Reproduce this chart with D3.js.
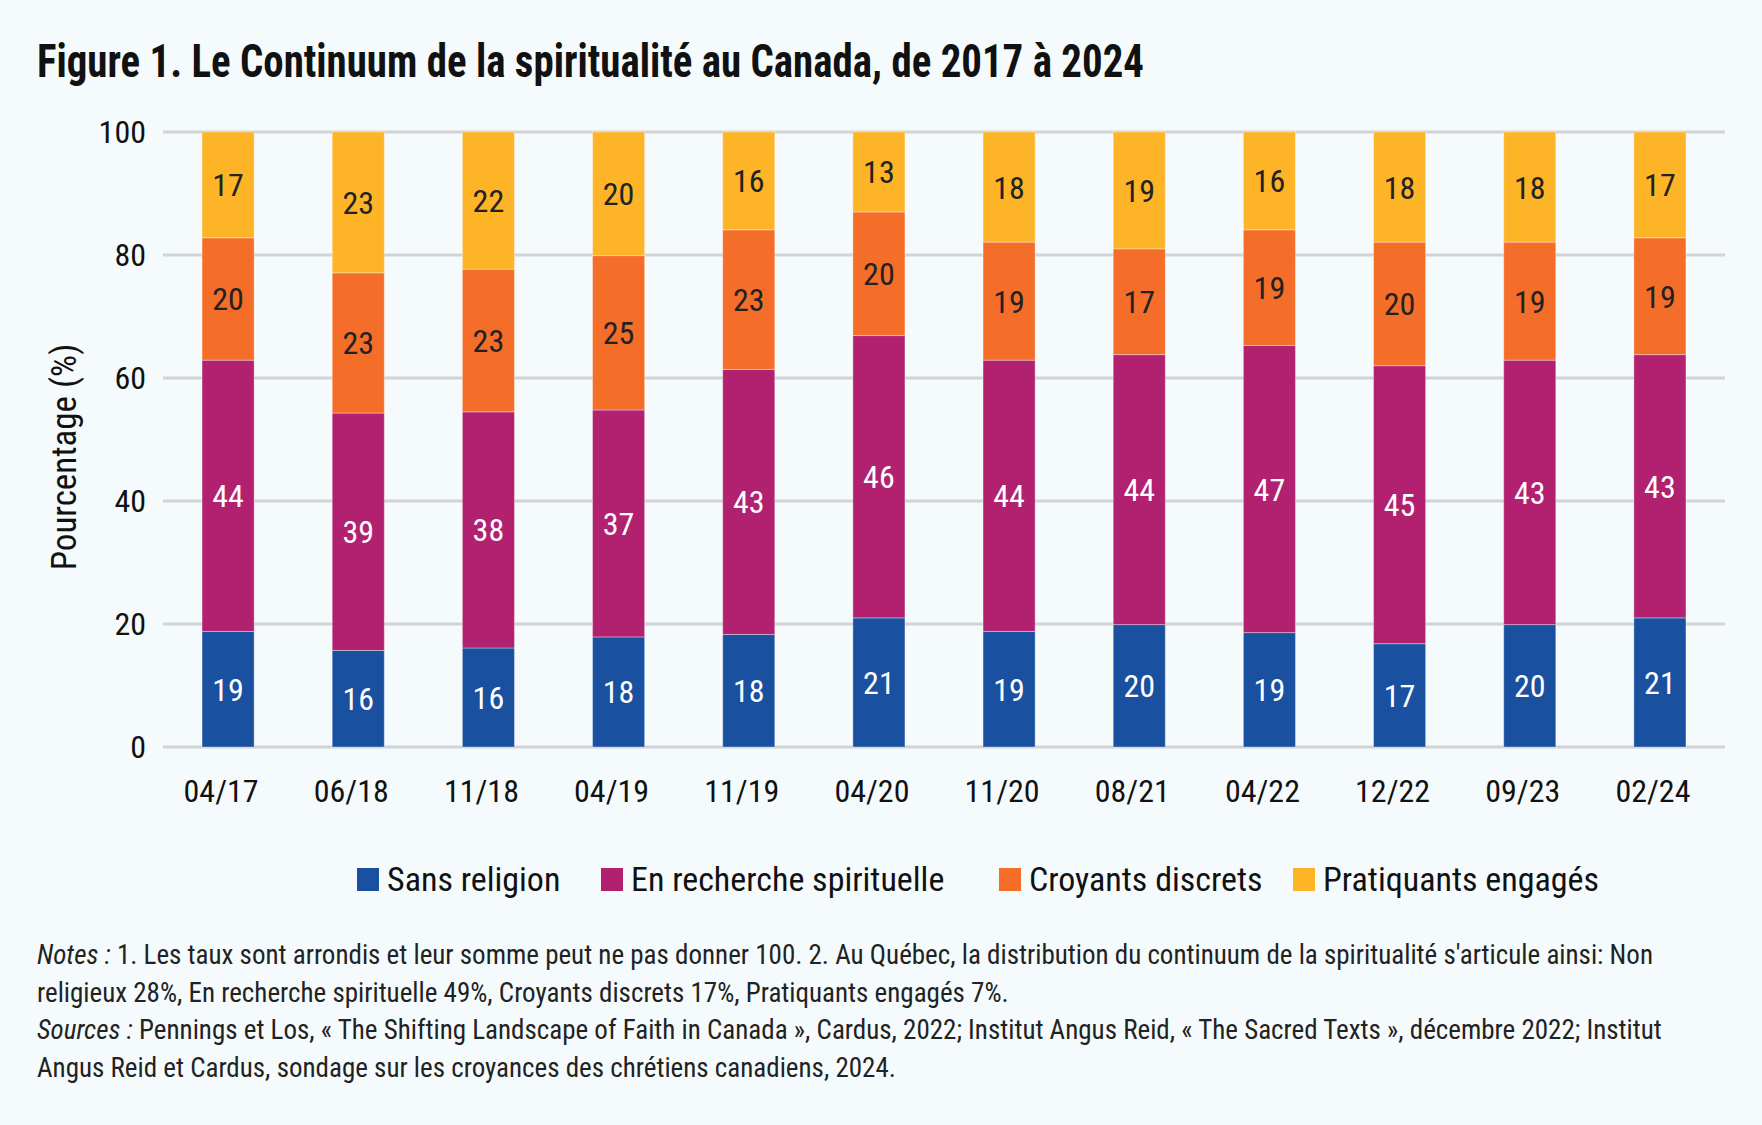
<!DOCTYPE html>
<html>
<head>
<meta charset="utf-8">
<script src="https://cdn.jsdelivr.net/npm/d3@7"></script>
<style>
  body { margin: 0; background: #f5fbfc; }
  svg { display: block; }
  text { font-family: "Liberation Sans Narrow", "Roboto Condensed", "DejaVu Sans Condensed", sans-serif; }
</style>
</head>
<body>
<div id="chart"></div>
<script>
// data (percentages, unrounded estimates; labels show rounded)
const periods = ['04/17', '06/18', '11/18', '04/19', '11/19', '04/20', '11/20', '08/21', '04/22', '12/22', '09/23', '02/24'];
const sansReligion = [18.8, 15.7, 16.1, 17.9, 18.3, 21.0, 18.8, 19.9, 18.6, 16.8, 19.9, 21.0];
const enRecherche  = [44.1, 38.6, 38.4, 36.9, 43.1, 45.9, 44.1, 43.9, 46.7, 45.2, 43.0, 42.8];
const croyants     = [19.9, 22.8, 23.2, 25.1, 22.7, 20.1, 19.2, 17.2, 18.8, 20.1, 19.2, 19.0];
const pratiquants  = [17.2, 22.9, 22.3, 20.1, 15.9, 13.0, 17.9, 19.0, 15.9, 17.9, 17.9, 17.2];
const seriesNames = ['Sans religion', 'En recherche spirituelle', 'Croyants discrets', 'Pratiquants engagés'];
const yTicks = [0, 20, 40, 60, 80, 100];

const colors = ['#1a50a0', '#b12170', '#f46d29', '#fdb426'];
const labelColors = ['#ffffff', '#ffffff', '#222222', '#222222'];

const width = 1762, height = 1125;
const margin = { top: 132, right: 37, bottom: 378, left: 163 };

const svg = d3.select('#chart')
    .append('svg')
    .attr('width', width)
    .attr('height', height);

svg.append('rect')
    .attr('width', width)
    .attr('height', height)
    .attr('fill', '#f5fbfc');

// title
svg.append('text')
    .attr('x', 37)
    .attr('y', 77)
    .style('font-size', '46px')
    .style('font-weight', 'bold')
    .attr('textLength', 1107)
    .attr('lengthAdjust', 'spacingAndGlyphs')
    .attr('fill', '#111')
    .text('Figure 1. Le Continuum de la spiritualité au Canada, de 2017 à 2024');

const g = svg.append('g')
    .attr('transform', `translate(${margin.left}, ${margin.top})`);

const innerW = width - margin.left - margin.right;
const innerH = height - margin.top - margin.bottom;

const xScale = d3.scaleBand()
    .domain(periods)
    .range([0, innerW])
    .paddingInner(0.6)
    .paddingOuter(0.3);

const yScale = d3.scaleLinear()
    .domain([0, 100])
    .range([innerH, 0]);

// gridlines
g.append('g')
    .selectAll('line')
    .data(yTicks)
    .join('line')
    .attr('x1', 0)
    .attr('x2', innerW)
    .attr('y1', d => yScale(d))
    .attr('y2', d => yScale(d))
    .attr('stroke', '#d2d3d5')
    .attr('stroke-width', 3);

// y axis labels
const yAxis = d3.axisLeft(yScale).tickValues(yTicks).tickSize(0).tickPadding(17);
g.append('g')
    .attr('class', 'y-axis')
    .call(yAxis)
    .call(s => s.select('.domain').remove())
    .selectAll('text')
    .style('font-size', '32px')
    .attr('fill', '#111');

// x axis labels
const xAxis = d3.axisBottom(xScale).tickSize(0).tickPadding(32);
g.append('g')
    .attr('class', 'x-axis')
    .attr('transform', `translate(0, ${innerH})`)
    .call(xAxis)
    .call(s => s.select('.domain').remove())
    .selectAll('text')
    .attr('dx', -7)
    .style('font-size', '32px')
    .attr('fill', '#111');

// y axis title
svg.append('text')
    .attr('transform', 'translate(76, 457) rotate(-90)')
    .style('text-anchor', 'middle')
    .style('font-size', '35px')
    .attr('fill', '#111')
    .text('Pourcentage (%)');

// stacked data
const table = periods.map((p, i) => ({
    period: p,
    s0: sansReligion[i],
    s1: enRecherche[i],
    s2: croyants[i],
    s3: pratiquants[i]
}));
const stack = d3.stack().keys(['s0', 's1', 's2', 's3']);
const stacked = stack(table);

const layers = g.selectAll('.layer')
    .data(stacked)
    .join('g')
    .attr('class', 'layer')
    .attr('fill', (d, i) => colors[i]);

layers.selectAll('rect')
    .data(d => d)
    .join('rect')
    .attr('x', d => xScale(d.data.period))
    .attr('y', d => yScale(Math.min(d[1], 100)))
    .attr('width', xScale.bandwidth())
    .attr('height', d => yScale(d[0]) - yScale(Math.min(d[1], 100)))
    .attr('stroke', 'rgba(255,255,255,0.35)')
    .attr('stroke-width', 1);

// value labels
layers.each(function(layer, li) {
    d3.select(this).selectAll('text')
        .data(layer)
        .join('text')
        .attr('x', d => xScale(d.data.period) + xScale.bandwidth() / 2)
        .attr('y', d => yScale((d[0] + Math.min(d[1], 100)) / 2))
        .attr('dy', '0.36em')
        .style('text-anchor', 'middle')
        .style('font-size', '32px')
        .attr('fill', labelColors[li])
        .text(d => Math.round(d[1] - d[0]));
});

// legend
const legendX = [357, 601, 999, 1293];
const legend = svg.append('g')
    .selectAll('g')
    .data(seriesNames)
    .join('g')
    .attr('transform', (d, i) => `translate(${legendX[i]}, 879)`);

legend.append('rect')
    .attr('x', 0)
    .attr('y', -11)
    .attr('width', 22)
    .attr('height', 23)
    .attr('fill', (d, i) => colors[i]);

legend.append('text')
    .attr('x', 30)
    .attr('dy', '0.36em')
    .style('font-size', '34px')
    .attr('fill', '#111')
    .text(d => d);

// notes
const noteLines = [
    ['Notes :', ' 1. Les taux sont arrondis et leur somme peut ne pas donner 100. 2. Au Québec, la distribution du continuum de la spiritualité s\'articule ainsi: Non'],
    ['', 'religieux 28%, En recherche spirituelle 49%, Croyants discrets 17%, Pratiquants engagés 7%.'],
    ['Sources :', ' Pennings et Los, « The Shifting Landscape of Faith in Canada », Cardus, 2022; Institut Angus Reid, « The Sacred Texts », décembre 2022; Institut'],
    ['', 'Angus Reid et Cardus, sondage sur les croyances des chrétiens canadiens, 2024.']
];

const notes = svg.append('g')
    .selectAll('text')
    .data(noteLines)
    .join('text')
    .attr('x', 37)
    .attr('y', (d, i) => 964 + i * 37.5)
    .style('font-size', '27px')
    .attr('fill', '#222');

notes.append('tspan')
    .style('font-style', 'italic')
    .text(d => d[0]);
notes.append('tspan')
    .text(d => d[1]);
</script>
</body>
</html>
